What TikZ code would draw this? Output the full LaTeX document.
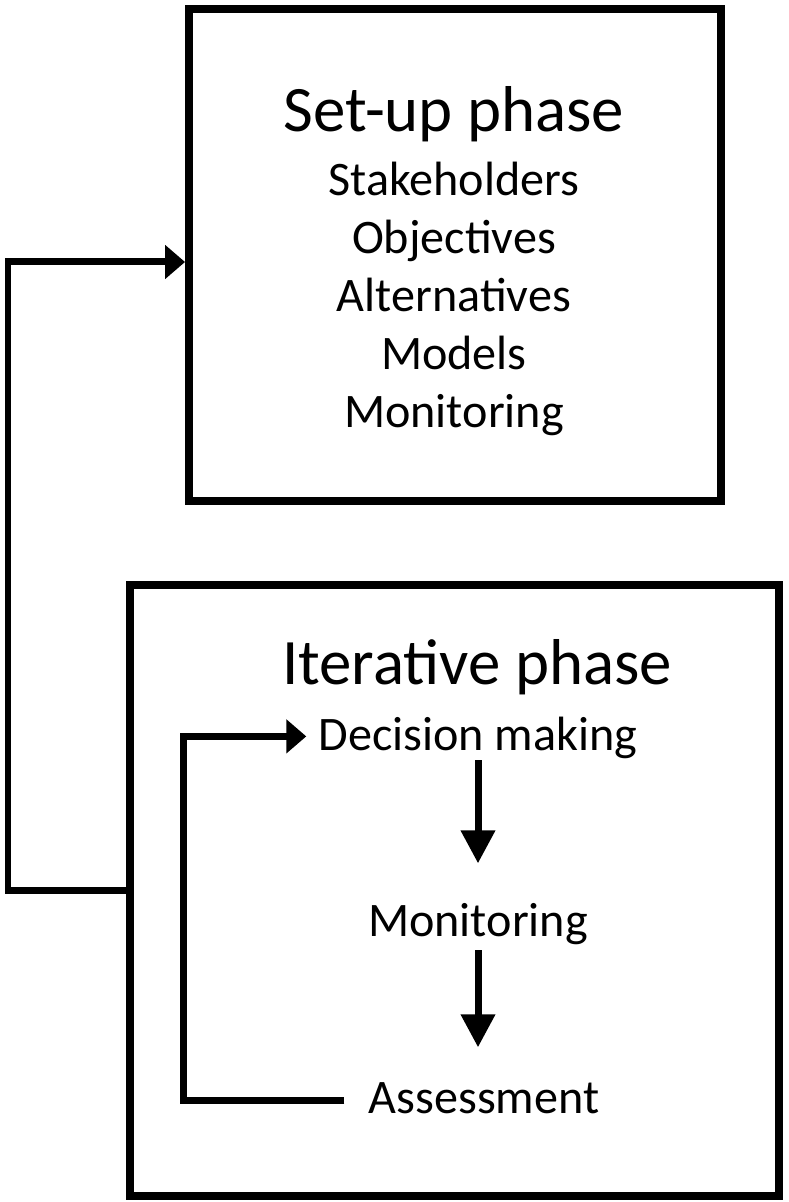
\documentclass[tikz,border=0pt]{standalone}
\usepackage{fontspec}
\setmainfont{Carlito}
\usetikzlibrary{positioning, arrows.meta}

\tikzset{
  phasebox/.style={draw, line width=0.16cm, inner sep=0pt},
  title/.style={font=\fontsize{36.9}{44}\selectfont, anchor=base, inner sep=0pt},
  item/.style={font=\fontsize{27.4}{33}\selectfont, text height=20.5pt, text depth=5pt, inner sep=6.8pt},
  link/.style={line width=0.14cm, -{Triangle[length=0.4cm, width=0.66cm]}},
  flow/.style={line width=0.14cm, -{Triangle[length=0.66cm, width=0.66cm]}}
}

\begin{document}
\begin{tikzpicture}[x=0.02cm, y=-0.02cm, node distance=1.16cm, on grid]
      \useasboundingbox (0,0) rectangle (788,1202);
      \node [phasebox, minimum width=10.64cm, minimum height=9.84cm] (setup) at (455,255) {};
      \node [phasebox, minimum width=12.98cm, minimum height=12.22cm] (iter) at (454.5,890.5) {};

      \node [title] (t1) at (454,132) {Set-up phase};
      \node [item, anchor=base] (st) at (454,196) {Stakeholders};
      \node [item, below=of st] (ob) {Objectives};
      \node [item, below=of ob] (al) {Alternatives};
      \node [item, below=of al] (mo) {Models};
      \node [item, below=of mo] (mn) {Monitoring};

      \node [title] (t2) at (477,684) {Iterative phase};
      \node [item, anchor=base] (dec) at (478,750) {Decision making};
      \node [item, below=3.74cm of dec] (mon) {Monitoring};
      \node [item, below right=3.54cm and 0.12cm of mon] (ass) {Assessment};

      \coordinate (up) at (8,262);
      \coordinate (turn) at (183,0);

      \draw [link] (iter.west) -| (up) -- (setup.west |- up);
      \draw [link] ([xshift=-0.24cm]ass.west) -- (ass.west -| turn) |- (dec.west);
      \draw [flow, shorten <=0.48cm, shorten >=1.2cm] (dec.center) -- (mon.center);
      \draw [flow, shorten <=0.54cm, shorten >=1.06cm] (mon.center) -- (mon |- ass);
\end{tikzpicture}
\end{document}
